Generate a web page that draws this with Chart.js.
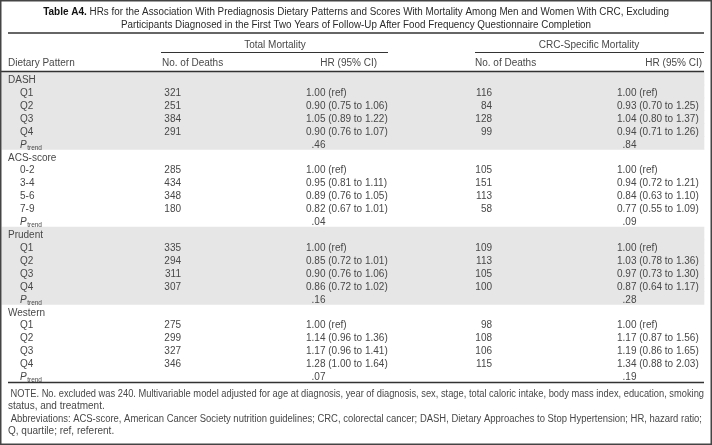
<!DOCTYPE html>
<html>
<head>
<meta charset="utf-8">
<script src="https://cdn.jsdelivr.net/npm/chart.js@4"></script>
<style>
  html, body { margin: 0; padding: 0; background: #fff; }
  #wrap { width: 712px; height: 445px; }
</style>
</head>
<body>
<div id="wrap"><canvas id="myChart" width="712" height="445"></canvas></div>
<script>
// table data
const patterns = ["DASH", "ACS-score", "Prudent", "Western"]
const levels = [
   ["Q1", "Q2", "Q3", "Q4"],
   ["0-2", "3-4", "5-6", "7-9"],
   ["Q1", "Q2", "Q3", "Q4"],
   ["Q1", "Q2", "Q3", "Q4"]
]
const shaded = [true, false, true, false]

const totalDeaths = [[321, 251, 384, 291], [285, 434, 348, 180], [335, 294, 311, 307], [275, 299, 327, 346]]
const totalHR = [[1.00, 0.90, 1.05, 0.90], [1.00, 0.95, 0.89, 0.82], [1.00, 0.85, 0.90, 0.86], [1.00, 1.14, 1.17, 1.28]]
const totalLo = [[null, 0.75, 0.89, 0.76], [null, 0.81, 0.76, 0.67], [null, 0.72, 0.76, 0.72], [null, 0.96, 0.96, 1.00]]
const totalHi = [[null, 1.06, 1.22, 1.07], [null, 1.11, 1.05, 1.01], [null, 1.01, 1.06, 1.02], [null, 1.36, 1.41, 1.64]]
const totalP = [".46", ".04", ".16", ".07"]

const crcDeaths = [[116, 84, 128, 99], [105, 151, 113, 58], [109, 113, 105, 100], [98, 108, 106, 115]]
const crcHR = [[1.00, 0.93, 1.04, 0.94], [1.00, 0.94, 0.84, 0.77], [1.00, 1.03, 0.97, 0.87], [1.00, 1.17, 1.19, 1.34]]
const crcLo = [[null, 0.70, 0.80, 0.71], [null, 0.72, 0.63, 0.55], [null, 0.78, 0.73, 0.64], [null, 0.87, 0.86, 0.88]]
const crcHi = [[null, 1.25, 1.37, 1.26], [null, 1.21, 1.10, 1.09], [null, 1.36, 1.30, 1.17], [null, 1.56, 1.65, 2.03]]
const crcP = [".84", ".09", ".28", ".19"]

const titleLines = [
   "HRs for the Association With Prediagnosis Dietary Patterns and Scores With Mortality Among Men and Women With CRC, Excluding",
   "Participants Diagnosed in the First Two Years of Follow-Up After Food Frequency Questionnaire Completion"
]
const noteLines = [
   " NOTE. No. excluded was 240. Multivariable model adjusted for age at diagnosis, year of diagnosis, sex, stage, total caloric intake, body mass index, education, smoking",
   "status, and treatment.",
   " Abbreviations: ACS-score, American Cancer Society nutrition guidelines; CRC, colorectal cancer; DASH, Dietary Approaches to Stop Hypertension; HR, hazard ratio;",
   "Q, quartile; ref, referent."
]

// flatten into table rows
let rows = []
for (let g = 0; g < patterns.length; g++) {
   rows.push({kind: "group", label: patterns[g], g: g})
   for (let i = 0; i < levels[g].length; i++) {
      rows.push({kind: "level", label: levels[g][i], g: g, i: i})
   }
   rows.push({kind: "p", label: "P", g: g})
}
const rowLabels = rows.map((r, k) => k + ":" + r.label)
const bandData = rows.map(r => shaded[r.g] ? [2, 704] : null)

const fmt = v => v.toFixed(2)
const hrText = (hr, lo, hi, g, i) => {
   if (lo[g][i] == null) return fmt(hr[g][i]) + " (ref)"
   return fmt(hr[g][i]) + " (" + fmt(lo[g][i]) + " to " + fmt(hi[g][i]) + ")"
}

const FONT = "'Liberation Sans', Arial, sans-serif"
const TXT = "#484848"

const tablePlugin = {
   id: "tableText",
   beforeDraw(chart) {
      const ctx = chart.ctx
      ctx.save()
      ctx.fillStyle = "#fff"
      ctx.fillRect(0, 0, chart.width, chart.height)
      ctx.restore()
   },
   afterDatasetsDraw(chart) {
      const ctx = chart.ctx
      const x = chart.scales.x
      const y = chart.scales.y
      const X = v => x.getPixelForValue(v)
      const top = chart.chartArea.top
      const bottom = chart.chartArea.bottom

      const line = (x1, x2, yy, w) => {
         ctx.beginPath()
         ctx.lineWidth = w
         ctx.strokeStyle = "#333"
         ctx.moveTo(X(x1), yy)
         ctx.lineTo(X(x2), yy)
         ctx.stroke()
      }
      const text = (s, xx, yy, align, font, maxW) => {
         ctx.font = font || "10px " + FONT
         ctx.textAlign = align || "left"
         ctx.fillStyle = TXT
         if (maxW) ctx.fillText(s, X(xx), yy, maxW)
         else ctx.fillText(s, X(xx), yy)
      }

      ctx.save()
      ctx.textBaseline = "middle"

      // title
      ctx.font = "bold 10px " + FONT
      const boldW = ctx.measureText("Table A4.").width
      ctx.font = "10px " + FONT
      const restW = Math.min(ctx.measureText(" " + titleLines[0]).width, 582)
      const t0 = 356 - (boldW + restW) / 2
      ctx.fillStyle = "#111"
      ctx.textAlign = "left"
      ctx.font = "bold 10px " + FONT
      ctx.fillText("Table A4.", t0, top - 60)
      ctx.font = "10px " + FONT
      ctx.fillStyle = "#2a2a2a"
      ctx.fillText(" " + titleLines[0], t0 + boldW, top - 60, 582)
      ctx.textAlign = "center"
      ctx.fillText(titleLines[1], 356, top - 47, 470)

      line(8, 704, top - 39, 1.3)

      // spanners
      text("Total Mortality", 275, top - 27, "center")
      text("CRC-Specific Mortality", 589, top - 27, "center")
      line(161, 388, top - 19.5, 1.2)
      line(475, 704, top - 19.5, 1.2)

      // column headers
      text("Dietary Pattern", 8, top - 8.5)
      text("No. of Deaths", 162, top - 8.5)
      text("HR (95% CI)", 377, top - 8.5, "right")
      text("No. of Deaths", 475, top - 8.5)
      text("HR (95% CI)", 702, top - 8.5, "right")
      line(0, 704, top - 0.5, 1.3)

      // body rows
      ctx.font = "10px " + FONT
      const oneW = ctx.measureText("1").width
      const dy = 1.8
      rows.forEach((r, k) => {
         const yy = y.getPixelForValue(k) + dy
         if (r.kind === "group") {
            text(r.label, 8, yy)
         } else if (r.kind === "level") {
            text(r.label, 20, yy)
            text(String(totalDeaths[r.g][r.i]), 181, yy, "right")
            text(hrText(totalHR, totalLo, totalHi, r.g, r.i), 306, yy)
            text(String(crcDeaths[r.g][r.i]), 492, yy, "right")
            text(hrText(crcHR, crcLo, crcHi, r.g, r.i), 617, yy)
         } else {
            text("P", 20, yy, "left", "italic 10px " + FONT)
            ctx.font = "italic 10px " + FONT
            const pw = ctx.measureText("P").width
            text("trend", 20 + pw + 0.5, yy + 3, "left", "6.5px " + FONT)
            text(totalP[r.g], 306 + oneW, yy)
            text(crcP[r.g], 617 + oneW, yy)
         }
      })

      line(8, 704, bottom + 0.5, 1.3)

      // notes
      text(noteLines[0], 8, bottom + 12, "left", null, 696)
      text(noteLines[1], 8, bottom + 24)
      text(noteLines[2], 8, bottom + 37.5, "left", null, 694)
      text(noteLines[3], 8, bottom + 49.5)

      // frame
      ctx.strokeStyle = "#444"
      ctx.lineWidth = 1.5
      ctx.strokeRect(0.75, 0.75, chart.width - 1.5, chart.height - 1.5)
      ctx.restore()
   }
}

const config = {
   type: "bar",
   data: {
      labels: rowLabels,
      datasets: [{
         label: "bands",
         data: bandData,
         backgroundColor: "#e6e6e6",
         borderWidth: 0,
         barPercentage: 1,
         categoryPercentage: 1
      }]
   },
   options: {
      indexAxis: "y",
      responsive: false,
      animation: false,
      layout: {padding: {top: 72, bottom: 63, left: 0, right: 0}},
      scales: {
         x: {type: "linear", min: 0, max: 712, display: false},
         y: {type: "category", display: false, grid: {display: false}}
      },
      plugins: {legend: {display: false}, tooltip: {enabled: false}}
   },
   plugins: [tablePlugin]
}

const myChart = new Chart(document.getElementById("myChart"), config)
</script>
</body>
</html>
